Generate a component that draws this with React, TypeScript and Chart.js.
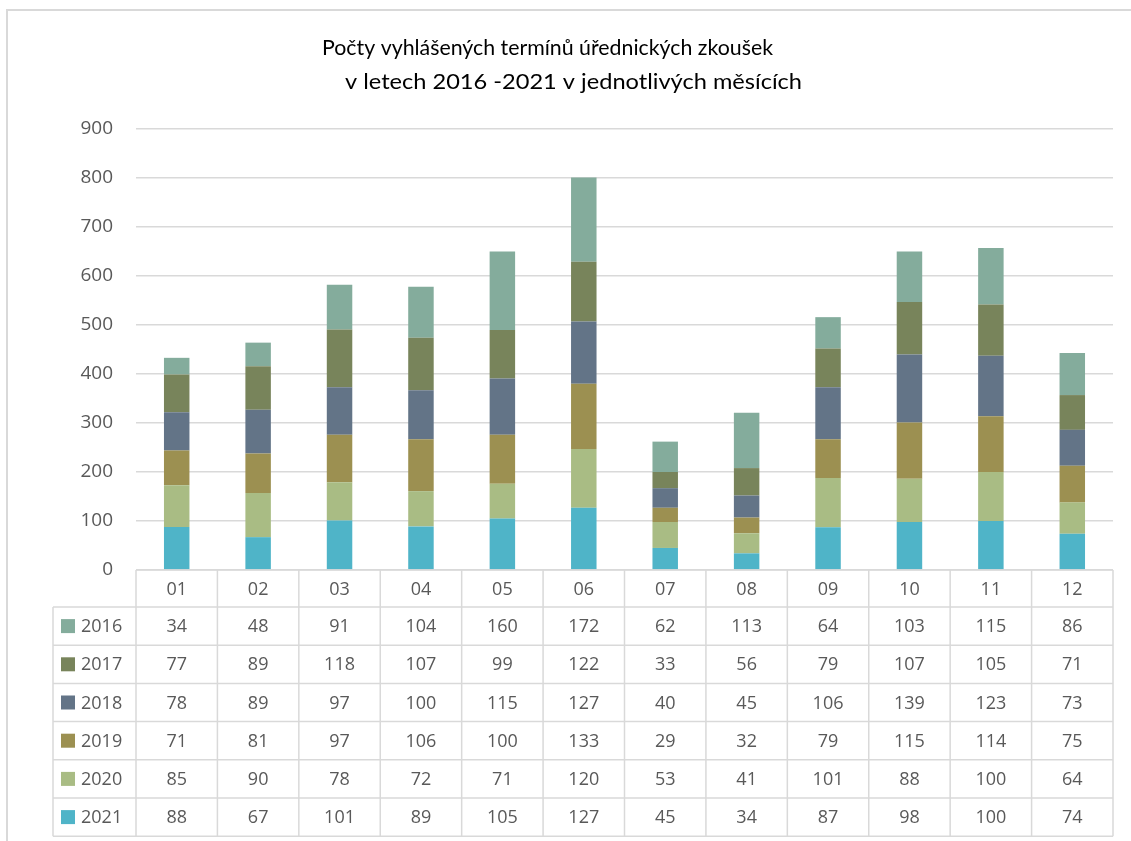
import React, { useEffect, useRef } from "react";
import { Chart, registerables } from "chart.js";

Chart.register(...registerables);

const months = ["01", "02", "03", "04", "05", "06", "07", "08", "09", "10", "11", "12"];
const years = ["2016", "2017", "2018", "2019", "2020", "2021"];
const v2016 = [34, 48, 91, 104, 160, 172, 62, 113, 64, 103, 115, 86];
const v2017 = [77, 89, 118, 107, 99, 122, 33, 56, 79, 107, 105, 71];
const v2018 = [78, 89, 97, 100, 115, 127, 40, 45, 106, 139, 123, 73];
const v2019 = [71, 81, 97, 106, 100, 133, 29, 32, 79, 115, 114, 75];
const v2020 = [85, 90, 78, 72, 71, 120, 53, 41, 101, 88, 100, 64];
const v2021 = [88, 67, 101, 89, 105, 127, 45, 34, 87, 98, 100, 74];
const yTicks = [0, 100, 200, 300, 400, 500, 600, 700, 800, 900];
const titleLines = ["Počty vyhlášených termínů úřednických zkoušek", "v letech 2016 -2021 v jednotlivých měsících"];

const colors: Record<string, string> = {
  "2016": "#84AC9C",
  "2017": "#78845B",
  "2018": "#637487",
  "2019": "#9C9051",
  "2020": "#A9BC84",
  "2021": "#4FB4C8",
};
const valuesByYear: Record<string, number[]> = {
  "2016": v2016,
  "2017": v2017,
  "2018": v2018,
  "2019": v2019,
  "2020": v2020,
  "2021": v2021,
};

const FONT = "'Open Sans', 'Noto Sans', sans-serif";
const TITLE_FONT = "Lato, 'Open Sans', sans-serif";
const TEXT = "#595959";
const LINE = "#D9D9D9";

const decorPlugin = {
  id: "decor",
  beforeDraw(chart: any) {
    const ctx = chart.ctx;
    ctx.save();
    ctx.fillStyle = "#ffffff";
    ctx.fillRect(0, 0, chart.width, chart.height);
    ctx.strokeStyle = LINE;
    ctx.lineWidth = 2;
    ctx.strokeRect(7, 10, chart.width + 20, chart.height + 20);
    ctx.restore();
  },
  afterDraw(chart: any) {
    const ctx = chart.ctx;
    const area = chart.chartArea;
    const xs = chart.scales.x;
    const left = area.left;
    const right = area.right;
    const colW = (right - left) / months.length;
    const tableLeft = 53;
    const headTop = area.bottom;
    const headBottom = headTop + 37;
    const rowH = 38.2;
    const bottom = headBottom + rowH * years.length;

    ctx.save();
    // title (each line fitted to the span it takes in the reference)
    ctx.fillStyle = "#000000";
    ctx.font = `21px ${TITLE_FONT}`;
    ctx.textAlign = "left";
    ctx.textBaseline = "middle";
    const spans = [
      [322, 773, 48],
      [345, 802, 82],
    ];
    titleLines.forEach((t, i) => {
      const [x0, x1, y] = spans[i];
      const w = ctx.measureText(t).width;
      const sx = (x1 - x0) / w;
      ctx.save();
      ctx.translate(x0, y);
      ctx.scale(sx, 1);
      ctx.fillText(t, 0, 0);
      ctx.restore();
    });

    // table lines
    ctx.strokeStyle = LINE;
    ctx.lineWidth = 1.5;
    ctx.beginPath();
    ctx.moveTo(left, headTop);
    ctx.lineTo(right, headTop);
    for (let r = 0; r <= years.length; r++) {
      const y = headBottom + r * rowH;
      ctx.moveTo(tableLeft, y);
      ctx.lineTo(right, y);
    }
    for (let c = 0; c <= months.length; c++) {
      const x = left + c * colW;
      ctx.moveTo(x, headTop);
      ctx.lineTo(x, bottom);
    }
    ctx.moveTo(tableLeft, headBottom);
    ctx.lineTo(tableLeft, bottom);
    ctx.stroke();

    // header text
    ctx.fillStyle = TEXT;
    ctx.font = `18px ${FONT}`;
    ctx.textAlign = "center";
    ctx.textBaseline = "middle";
    months.forEach((m, i) => {
      const x = xs.getPixelForValue(i);
      ctx.fillText(m, x, (headTop + headBottom) / 2 + 1);
    });

    years.forEach((yr, r) => {
      const yc = headBottom + r * rowH + rowH / 2;
      ctx.fillStyle = colors[yr];
      ctx.fillRect(61, yc - 7, 14, 14);
      ctx.fillStyle = TEXT;
      ctx.textAlign = "left";
      ctx.fillText(yr, 81, yc + 1);
      ctx.textAlign = "center";
      valuesByYear[yr].forEach((v, i) => {
        ctx.fillText(String(v), xs.getPixelForValue(i), yc + 1);
      });
    });
    ctx.restore();
  },
};

export default function App() {
  const ref = useRef<HTMLCanvasElement | null>(null);
  useEffect(() => {
    let chart: Chart | null = null;
    let cancelled = false;
    const make = () => {
      if (cancelled || !ref.current) return;
      const stackOrder = ["2021", "2020", "2019", "2018", "2017", "2016"];
      chart = new Chart(ref.current, {
        type: "bar",
        data: {
          labels: months,
          datasets: stackOrder.map((yr) => ({
            label: yr,
            data: valuesByYear[yr],
            backgroundColor: colors[yr],
            borderWidth: 0,
            barPercentage: 0.313,
            categoryPercentage: 1,
          })),
        },
        options: {
          animation: false,
          responsive: false,
          layout: { padding: { left: 0, right: 18, top: 129, bottom: 271 } },
          plugins: {
            legend: { display: false },
            title: { display: false },
            tooltip: { enabled: false },
          },
          scales: {
            x: { stacked: true, display: false },
            y: {
              stacked: true,
              min: 0,
              max: 900,
              afterFit: (s: any) => {
                s.width = 136;
              },
              afterBuildTicks: (s: any) => {
                s.ticks = yTicks.map((v) => ({ value: v }));
              },
              border: { display: false },
              grid: { color: LINE, lineWidth: 1.5, drawTicks: false },
              ticks: {
                padding: 23,
                color: TEXT,
                font: { family: FONT, size: 19 },
              },
            },
          },
        },
        plugins: [decorPlugin],
      });
    };
    const fonts = (document as any).fonts;
    if (fonts && fonts.load) {
      Promise.all([
        fonts.load("18px 'Open Sans'", "0123456789"),
        fonts.load("19px 'Open Sans'", "0123456789"),
        fonts.load("21px Lato", "Počty"),
      ])
        .catch(() => null)
        .then(make);
    } else {
      make();
    }
    return () => {
      cancelled = true;
      if (chart) chart.destroy();
    };
  }, []);
  return (
    <div style={{ position: "absolute", left: 0, top: 0, width: 1131, height: 841 }}>
      <canvas ref={ref} width={1131} height={841} style={{ display: "block" }} />
    </div>
  );
}
